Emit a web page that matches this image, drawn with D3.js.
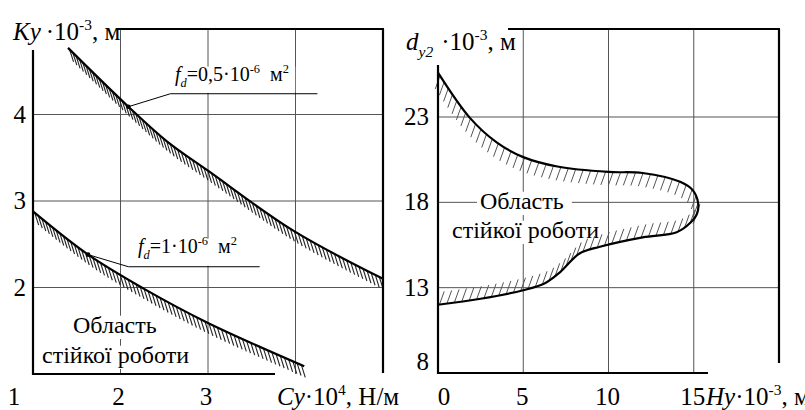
<!DOCTYPE html>
<html><head><meta charset="utf-8">
<script src="https://cdn.jsdelivr.net/npm/d3@7"></script>
</head><body style="margin:0;background:#fff">
<svg id="c" width="805" height="410"></svg>
<script>
// ---------- data ----------
const cyUpper = [1.4, 2.09, 2.53, 3, 3.97, 5];
const kyUpper = [4.77, 4.09, 3.69, 3.35, 2.66, 2.1];
const cyLower = [1, 1.63, 2.26, 3, 4.1];
const kyLower = [2.88, 2.38, 1.99, 1.59, 1.09];
const hyCurve  = [0, 1.87, 3.46, 5, 7, 10, 12, 14.2, 14.95, 15.25, 15.2, 14.8, 14, 12, 9.5, 8.3, 7.15, 6.27, 5, 2.5, 0];
const dy2Curve = [25.6, 22.95, 21.5, 20.65, 20.1, 19.78, 19.72, 19.2, 18.7, 18, 17.35, 16.8, 16.25, 15.95, 15.4, 15.0, 13.9, 13.26, 12.85, 12.35, 12.0];
const xTickL = [1, 2, 3];
const yTickL = [2, 3, 4];
const gridL = [2, 3, 4];
const xTickR = [0, 5, 10, 15];
const yTickR = [8, 13, 18, 23];
const gridXR = [5, 10, 15];
const gridYR = [13, 18, 23];
const fdUpper = "0,5·10";
const fdLower = "1·10";
// annotation anchors (data units): marker, elbow, end
const annUpper = [[2.09, 4.09], [2.57, 4.24], [4.25, 4.24]];
const annLower = [[1.63, 2.38], [2.09, 2.24], [3.59, 2.24]];

// ---------- setup ----------
const svg = d3.select('#c');
const FONT = 'Liberation Serif';
const TOP = 29;

const xL = d3.scaleLinear([1, 5], [33, 383]);
const yL = d3.scaleLinear([1, 5], [374, 28]);
const xR = d3.scaleLinear([0, 20], [438, 779]);
const yR = d3.scaleLinear([8, 23], [373, 117]);

// rough width estimate (no text measuring, no layout calls)
function estWidth(s, size) {
  let w = 0;
  for (const ch of s) {
    if (ch === ' ' || ch === ',' || ch === '·' || ch === 'і' || ch === 'ї') w += 0.27;
    else if (/[А-ЯA-Z]/.test(ch)) w += 0.7;
    else if (ch === 'ш' || ch === 'щ' || ch === 'м' || ch === 'ю') w += 0.62;
    else w += 0.5;
  }
  return w * size;
}

function label(parent, x, y, parts, size, opts = {}) {
  const g = parent.append('g');
  if (opts.bg) {
    const w = opts.bgWidth;
    const top = y - size * 0.72, bottom = opts.bgBottom !== undefined ? opts.bgBottom : y + size * 0.25;
    g.append('rect').attr('fill', '#fff').attr('x', x - 3).attr('y', top).attr('width', w + 6).attr('height', bottom - top);
  }
  const t = g.append('text').attr('x', x).attr('y', y).attr('font-family', FONT).attr('font-size', size)
    .attr('fill', '#000').attr('text-anchor', opts.anchor || 'start');
  let shift = 0;
  parts.forEach(p => {
    if (typeof p === 'string') p = {t: p};
    const small = p.sup || p.sub;
    const target = p.sup ? -size * 0.42 : p.sub ? size * 0.28 : 0;
    const ts = t.append('tspan').attr('font-family', FONT)
      .attr('font-size', small ? size * 0.62 : size)
      .attr('dy', target - shift).text(p.t);
    if (p.it) ts.attr('font-style', 'italic');
    shift = target;
    if (p.dx) ts.attr('dx', p.dx);
  });
  return g;
}

// sample the generated curve analytically (captures bezier segments through a context)
function curvePolyline(lineGen, pts) {
  const segs = []; let cur = null;
  const ctx = {
    moveTo(x, y) { cur = [x, y]; },
    lineTo(x, y) { segs.push([cur, [x, y]]); cur = [x, y]; },
    bezierCurveTo(a, b, c, d, x, y) { segs.push([cur, [a, b], [c, d], [x, y]]); cur = [x, y]; },
    closePath() {}
  };
  lineGen.context(ctx)(pts);
  lineGen.context(null);
  const out = [];
  segs.forEach((s, i) => {
    const n = 40;
    for (let k = i ? 1 : 0; k <= n; k++) {
      const t = k / n, u = 1 - t;
      if (s.length === 2) out.push([s[0][0] + (s[1][0] - s[0][0]) * t, s[0][1] + (s[1][1] - s[0][1]) * t]);
      else out.push([
        u * u * u * s[0][0] + 3 * u * u * t * s[1][0] + 3 * u * t * t * s[2][0] + t * t * t * s[3][0],
        u * u * u * s[0][1] + 3 * u * u * t * s[1][1] + 3 * u * t * t * s[2][1] + t * t * t * s[3][1]]);
    }
  });
  return out;
}

function hatch(parent, poly, dir, len, step, width, color) {
  const g = parent.append('g').attr('stroke', color).attr('stroke-width', width);
  let acc = 0, next = step / 2;
  for (let i = 1; i < poly.length; i++) {
    const [x0, y0] = poly[i - 1], [x1, y1] = poly[i];
    const sl = Math.hypot(x1 - x0, y1 - y0);
    if (sl === 0) continue;
    while (next <= acc + sl) {
      const f = (next - acc) / sl;
      const px = x0 + (x1 - x0) * f, py = y0 + (y1 - y0) * f;
      const tx = (x1 - x0) / sl, ty = (y1 - y0) / sl;
      const nx = -ty, ny = tx; // interior side
      let dx = dir[0], dy = dir[1];
      if (dx * nx + dy * ny < 0) { dx = -dx; dy = -dy; }
      g.append('line').attr('x1', px).attr('y1', py).attr('x2', px + dx * len).attr('y2', py + dy * len);
      next += step;
    }
    acc += sl;
  }
}

const grid = svg.append('g').attr('stroke', '#555').attr('stroke-width', 1);
const frame = svg.append('g').attr('stroke', '#000').attr('stroke-width', 2.2).attr('fill', 'none');
const texts = svg.append('g');
const curves = svg.append('g');
const ann = svg.append('g');

// ---------- LEFT CHART ----------
gridL.forEach(v => {
  grid.append('line').attr('x1', xL(1)).attr('x2', xL(5)).attr('y1', yL(v)).attr('y2', yL(v));
  grid.append('line').attr('x1', xL(v)).attr('x2', xL(v)).attr('y1', TOP).attr('y2', yL(1));
});
frame.append('line').attr('x1', xL(1)).attr('x2', xL(1)).attr('y1', 50).attr('y2', yL(1) + 1);
frame.append('line').attr('x1', xL(1) - 1).attr('x2', 275).attr('y1', yL(1)).attr('y2', yL(1));
frame.append('line').attr('x1', 118).attr('x2', xL(5) + 1).attr('y1', TOP).attr('y2', TOP);
frame.append('line').attr('x1', xL(5)).attr('x2', xL(5)).attr('y1', TOP).attr('y2', yL(1) - 1);

yTickL.forEach(v => label(texts, 26, yL(v) + 8, [String(v)], 25, {anchor: 'end'}));
xTickL.forEach((v, i) => label(texts, xL(v) - (i === 0 ? 19 : 2), 405, [String(v)], 25, {anchor: 'middle'}));
label(texts, 13, 40, [{t: 'Ky', it: true}, {t: '·10', dx: 5}, {t: '-3', sup: true}, ', м'], 25);
label(texts, 277, 405, [{t: 'Cy', it: true}, '·10', {t: '4', sup: true}, ', Н/м'], 25);

const lineL = d3.line().x(d => xL(d[0])).y(d => yL(d[1])).curve(d3.curveCatmullRom.alpha(0.5));
const upPts = cyUpper.map((c, i) => [c, kyUpper[i]]);
const loPts = cyLower.map((c, i) => [c, kyLower[i]]);
const hatchDirL = [0.3, 0.95];
[upPts, loPts].forEach(pts => {
  hatch(curves, curvePolyline(lineL, pts), hatchDirL, 13, 4.6, 1.1, '#222');
  curves.append('path').attr('d', lineL(pts)).attr('fill', 'none').attr('stroke', '#000').attr('stroke-width', 2.2);
});

// annotations (left)
[[annUpper, 175, 81, fdUpper], [annLower, 138, 253, fdLower]].forEach(([a, tx, ty, val]) => {
  const pts = a.map(d => [xL(d[0]), yL(d[1])]);
  const w = estWidth('fd=' + val, 20) + estWidth('-6', 12) + 10 + estWidth('м', 20) + estWidth('2', 12) - 4;
  label(texts, tx, ty, [{t: 'f', it: true}, {t: 'd', it: true, sub: true}, '=' + val, {t: '-6', sup: true}, {t: 'м', dx: 10}, {t: '2', sup: true}], 20,
    {bg: true, bgWidth: w, bgBottom: pts[1][1] - 1});
  ann.append('polyline').attr('points', pts.map(p => p.join(',')).join(' '))
    .attr('fill', 'none').attr('stroke', '#000').attr('stroke-width', 1);
  ann.append('circle').attr('cx', pts[0][0]).attr('cy', pts[0][1]).attr('r', 2.3).attr('fill', '#000');
});
label(texts, 73, 333, ['Область'], 24, {bg: true, bgWidth: estWidth('Область', 24)});
label(texts, 42, 363, ['стійкої роботи'], 24, {bg: true, bgWidth: estWidth('стійкої роботи', 24)});

// ---------- RIGHT CHART ----------
gridYR.forEach(v => grid.append('line').attr('x1', xR(0)).attr('x2', xR(20)).attr('y1', yR(v)).attr('y2', yR(v)));
gridXR.forEach(v => grid.append('line').attr('x1', xR(v)).attr('x2', xR(v)).attr('y1', TOP).attr('y2', yR(8)));
frame.append('line').attr('x1', xR(0)).attr('x2', xR(0)).attr('y1', 65).attr('y2', yR(8) + 1);
frame.append('line').attr('x1', xR(0) - 1).attr('x2', 708).attr('y1', yR(8)).attr('y2', yR(8));
frame.append('line').attr('x1', 508).attr('x2', xR(20) + 1).attr('y1', TOP).attr('y2', TOP);
frame.append('line').attr('x1', xR(20)).attr('x2', xR(20)).attr('y1', TOP).attr('y2', 363);

yTickR.forEach((v, i) => label(texts, 429, yR(v) + 8 - (i === 0 ? 11 : 0), [String(v)], 25, {anchor: 'end'}));
xTickR.forEach((v, i) => label(texts, xR(v) + (i === 0 ? 6 : -1), 405, [String(v)], 25, {anchor: 'middle'}));
label(texts, 406, 50, [{t: 'd', it: true}, {t: 'y2', it: true, sub: true}, {t: '·10', dx: 8}, {t: '-3', sup: true}, ', м'], 25);
label(texts, 706, 405, [{t: 'Hy', it: true}, '·10', {t: '-3', sup: true}, ', м'], 25);
label(texts, 480, 209, ['Область'], 24, {bg: true, bgWidth: estWidth('Область', 24)});
label(texts, 452, 238, ['стійкої роботи'], 24, {bg: true, bgWidth: estWidth('стійкої роботи', 24)});

const lineR = d3.line().x(d => xR(d[0])).y(d => yR(d[1])).curve(d3.curveCatmullRom.alpha(0.5));
const rPts = hyCurve.map((h, i) => [h, dy2Curve[i]]);
hatch(curves, curvePolyline(lineR, rPts), [-0.34, 0.94], 14, 7.5, 1, '#555');
curves.append('path').attr('d', lineR(rPts)).attr('fill', 'none').attr('stroke', '#000').attr('stroke-width', 2.2);
ann.raise();
frame.raise();
</script>
</body></html>
